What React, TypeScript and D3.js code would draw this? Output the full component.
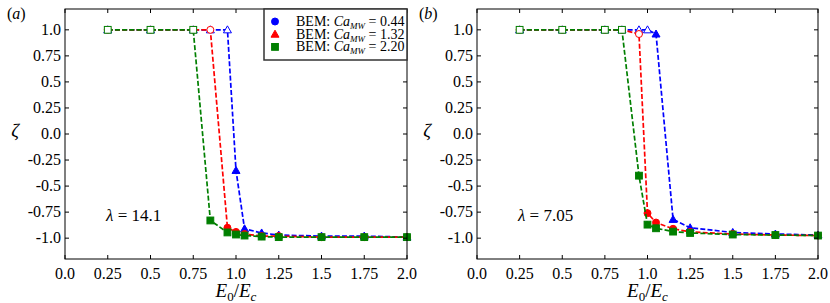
import * as d3 from 'd3';

// E0/Ec sample points and zeta values
const xsA = [0.25, 0.5, 0.75, 0.85, 0.95, 1.0, 1.05, 1.15, 1.25, 1.5, 1.75, 2.0];
const blueA = [1, 1, 1, 1, 1, -0.35, -0.91, -0.95, -0.97, -0.98, -0.98, -0.99];
const redA = [1, 1, 1, 1, -0.9, -0.94, -0.96, -0.98, -0.98, -0.99, -0.99, -0.99];
const greenA = [1, 1, 1, -0.83, -0.945, -0.965, -0.975, -0.985, -0.99, -0.99, -0.99, -0.99];
// how many leading points are drawn hollow (blue, red, green)
const hollowA = [5, 4, 3];

const xsB = [0.25, 0.5, 0.75, 0.85, 0.95, 1.0, 1.05, 1.15, 1.25, 1.5, 1.75, 2.0];
const blueB = [1, 1, 1, 1, 1, 1, 0.96, -0.82, -0.9, -0.945, -0.96, -0.97];
const redB = [1, 1, 1, 1, 0.96, -0.76, -0.85, -0.91, -0.94, -0.96, -0.97, -0.975];
const greenB = [1, 1, 1, 1, -0.4, -0.87, -0.905, -0.937, -0.95, -0.965, -0.97, -0.975];
const hollowB = [6, 5, 4];

const xTicks = [0, 0.25, 0.5, 0.75, 1.0, 1.25, 1.5, 1.75, 2.0];
const xTickLabels = ['0.0', '0.25', '0.5', '0.75', '1.0', '1.25', '1.5', '1.75', '2.0'];
const yTicks = [1.0, 0.75, 0.5, 0.25, 0, -0.25, -0.5, -0.75, -1.0];
const yTickLabels = ['1.0', '0.75', '0.5', '0.25', '0.0', '-0.25', '-0.5', '-0.75', '-1.0'];

const legendValues = ['0.44', '1.32', '2.20'];

const FONT = '"Liberation Serif", "DejaVu Serif", serif';
const BLUE = '#0000ff';
const RED = '#ff0000';
const GREEN = '#007f00';

type Shape = 'circle' | 'triangle' | 'square';

function Marker({ shape, x, y, color, hollow }: { shape: Shape; x: number; y: number; color: string; hollow: boolean }) {
  const fill = hollow ? '#fff' : color;
  if (shape === 'circle') return <circle cx={x} cy={y} r={3.5} fill={fill} stroke={color} strokeWidth={1} />;
  if (shape === 'square') return <rect x={x - 3.4} y={y - 3.4} width={6.8} height={6.8} fill={fill} stroke={color} strokeWidth={1} />;
  const s = 4;
  return <path d={`M${x},${y - s}L${x + s},${y + s * 0.75}L${x - s},${y + s * 0.75}Z`} fill={fill} stroke={color} strokeWidth={1} />;
}

function Panel({ left, right, tag, lambda, xs, series, legend }: {
  left: number; right: number; tag: string; lambda: string; xs: number[];
  series: { vals: number[]; color: string; shape: Shape; hollow: number }[]; legend: boolean;
}) {
  const top = 9;
  const bottom = 259;
  const x = d3.scaleLinear().domain([0, 2]).range([left, right]);
  const y = d3.scaleLinear().domain([-1.2, 1.2]).range([bottom, top]);
  const line = d3.line<[number, number]>().x((d) => x(d[0])).y((d) => y(d[1]));
  const tl = 4;
  const mid = (left + right) / 2;

  return (
    <g fontFamily={FONT}>
      {series.map((s, i) => {
        const pts = xs.map((v, j) => [v, s.vals[j]] as [number, number]);
        return (
          <g key={i}>
            <path d={line(pts) ?? ''} fill="none" stroke={s.color} strokeWidth={1.7} strokeDasharray="5,2.2" />
            {pts.map((p, j) => (
              <Marker key={j} shape={s.shape} x={x(p[0])} y={y(p[1])} color={s.color} hollow={j < s.hollow} />
            ))}
          </g>
        );
      })}
      <rect x={left} y={top} width={right - left} height={bottom - top} fill="none" stroke="#000" strokeWidth={1} />
      {xTicks.map((t, i) => (
        <g key={i}>
          <line x1={x(t)} x2={x(t)} y1={bottom} y2={bottom - tl} stroke="#000" />
          <line x1={x(t)} x2={x(t)} y1={top} y2={top + tl} stroke="#000" />
          <text x={x(t)} y={279} textAnchor="middle" fontSize={16}>{xTickLabels[i]}</text>
        </g>
      ))}
      {yTicks.map((t, i) => (
        <g key={i}>
          <line x1={left} x2={left + tl} y1={y(t)} y2={y(t)} stroke="#000" />
          <line x1={right} x2={right - tl} y1={y(t)} y2={y(t)} stroke="#000" />
          <text x={left - 4} y={y(t) + 5} textAnchor="end" fontSize={16}>{yTickLabels[i]}</text>
        </g>
      ))}
      <text x={left - 50} y={y(0) + 3} fontSize={19} fontStyle="italic" textAnchor="middle">ζ</text>
      <text x={mid} y={297} textAnchor="middle" fontSize={19}>
        <tspan fontStyle="italic">E</tspan><tspan fontSize={13} dy={4}>0</tspan>
        <tspan dy={-4}>/</tspan><tspan fontStyle="italic">E</tspan><tspan fontSize={13} fontStyle="italic" dy={4}>c</tspan>
      </text>
      <text x={left - 58} y={19} fontSize={16}>(<tspan fontStyle="italic">{tag}</tspan>)</text>
      <text x={x(0.24)} y={y(-0.83) + 1} fontSize={17}>
        <tspan fontStyle="italic">λ</tspan> = {lambda}
      </text>
      {legend && (
        <g>
          <rect x={264} y={top} width={right - 264} height={51} fill="#fff" stroke="#333" strokeWidth={1.5} />
          {[
            { color: BLUE, shape: 'circle' as Shape },
            { color: RED, shape: 'triangle' as Shape },
            { color: GREEN, shape: 'square' as Shape },
          ].map((e, i) => {
            const ry = 21.5 + i * 12.7;
            return (
              <g key={i}>
                <Marker shape={e.shape} x={275} y={ry} color={e.color} hollow={false} />
                <text x={296} y={ry + 4.5} fontSize={14}>
                  BEM: <tspan fontStyle="italic">Ca</tspan><tspan fontStyle="italic" fontSize={9} dy={3}>MW</tspan>
                  <tspan dy={-3}> = {legendValues[i]}</tspan>
                </text>
              </g>
            );
          })}
        </g>
      )}
    </g>
  );
}

export default function App() {
  return (
    <svg width={830} height={303} style={{ position: 'absolute', left: 0, top: 0, background: '#fff' }}>
      <Panel
        left={65}
        right={407}
        tag="a"
        lambda="14.1"
        xs={xsA}
        legend
        series={[
          { vals: blueA, color: BLUE, shape: 'triangle', hollow: hollowA[0] },
          { vals: redA, color: RED, shape: 'circle', hollow: hollowA[1] },
          { vals: greenA, color: GREEN, shape: 'square', hollow: hollowA[2] },
        ]}
      />
      <Panel
        left={477}
        right={818}
        tag="b"
        lambda="7.05"
        xs={xsB}
        legend={false}
        series={[
          { vals: blueB, color: BLUE, shape: 'triangle', hollow: hollowB[0] },
          { vals: redB, color: RED, shape: 'circle', hollow: hollowB[1] },
          { vals: greenB, color: GREEN, shape: 'square', hollow: hollowB[2] },
        ]}
      />
    </svg>
  );
}
